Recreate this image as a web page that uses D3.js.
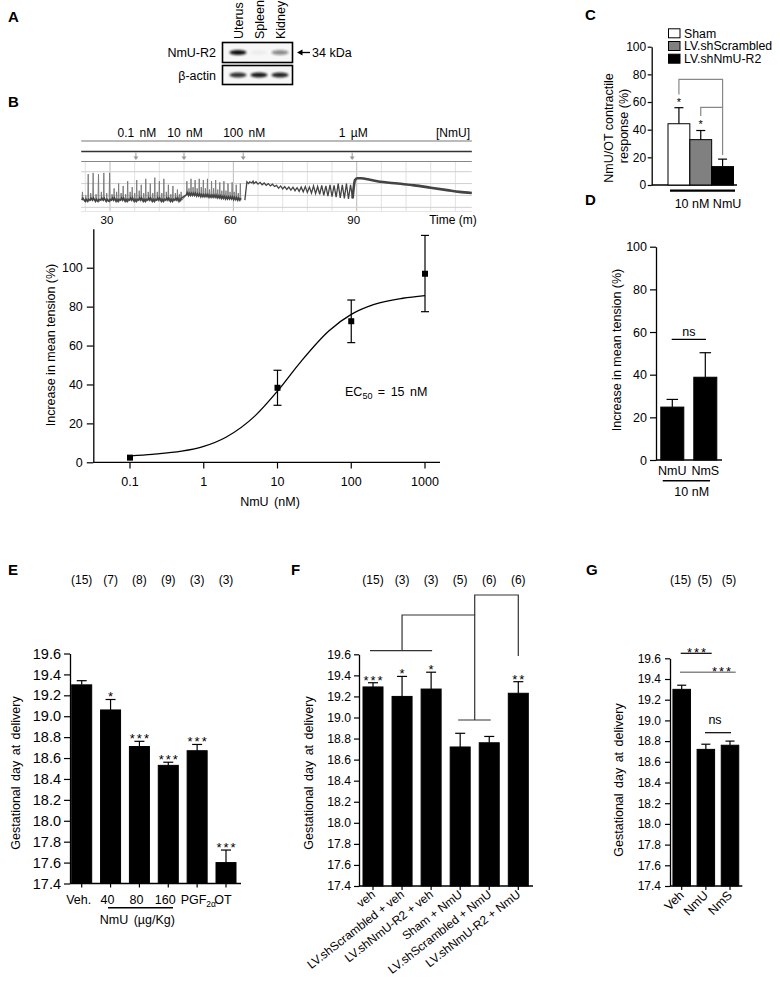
<!DOCTYPE html>
<html><head><meta charset="utf-8">
<script src="https://cdn.jsdelivr.net/npm/d3@7"></script>
<style>
body{margin:0;background:#fff;}
</style></head><body>
<svg id="fig" width="780" height="986"></svg>
<script>
// ================= DATA =================
// Panel A (western blot)
const blotLanes = ["Uterus", "Spleen", "Kidney"];
const nmuR2Band = [1.0, 0.04, 0.45];
const actinBand = [0.85, 0.95, 0.9];

// Panel B (trace)
const doseTimes = [36.3, 48.0, 62.4, 88.9];
const doseLabels = ["0.1 nM", "10 nM", "100 nM", "1 µM"];
const timeTicks = [30, 60, 90];
// spikes: [time (min), peak, trough]
const spikes1 = [[23.3,1.3,0.6],[24.1,1.0,0.5],[24.7,2.8,0.5],[25.3,1.2,0.6],[25.9,2.9,0.6],[26.6,1.1,0.5],[27.2,2.8,0.5],
  [27.9,1.3,0.6],[28.5,2.9,0.6],[29.2,1.2,0.5],[29.9,2.9,0.5],[30.5,1.1,0.6],[31.0,1.6,0.6],[31.6,1.3,0.5],[32.1,2.0,0.5],
  [32.7,1.2,0.6],[33.2,1.8,0.6],[33.8,1.1,0.5],[34.3,2.2,0.5],[34.9,1.3,0.6],[35.4,1.7,0.6],[36.0,1.2,0.5],[36.5,2.3,0.5],
  [37.1,1.4,0.6],[37.6,1.9,0.6],[38.2,1.2,0.5],[38.7,2.4,0.5],[39.3,1.3,0.6],[39.8,2.0,0.6],[40.4,1.2,0.5],[40.9,2.5,0.5],
  [41.5,1.3,0.6],[42.0,2.2,0.6],[42.6,1.2,0.5],[43.1,2.4,0.5],[43.7,1.3,0.6],[44.2,1.9,0.6],[44.8,1.1,0.5],[45.3,1.8,0.5],
  [45.9,1.2,0.6],[46.4,1.5,0.6],[46.9,1.1,0.5],[47.3,1.3,0.6]];
const spikes2 = [[48.7,2.2,1.05],[49.2,1.6,1.0],[49.7,2.4,1.0],[50.2,1.7,1.0],[50.7,2.3,1.0],[51.2,1.6,0.95],[51.7,2.4,0.95],
  [52.2,1.7,0.9],[52.7,2.3,0.9],[53.2,1.6,0.9],[53.7,2.4,0.9],[54.2,1.5,0.85],[54.7,2.2,0.85],[55.2,1.6,0.85],[55.7,2.3,0.85],
  [56.2,1.5,0.8],[56.7,2.1,0.8],[57.2,1.4,0.75],[57.7,2.2,0.75],[58.2,1.4,0.7],[58.7,2.0,0.7],[59.2,1.3,0.7],[59.7,2.1,0.7],
  [60.2,1.3,0.65],[60.7,1.9,0.65],[61.2,1.2,0.6],[61.7,2.0,0.6]];
const plateau = [[62.8,0.6],[63.3,2.15],[63.7,2.0],[64,2.15],[64.5,2.05],[64.8,2.2],[65,2.0],[65.5,2.15],[66,1.95],[66.5,2.1],[67,1.9],[67.5,2.05],
  [68,1.85],[68.5,2.0],[69,1.8],[69.5,1.95],[70,1.75],[70.5,1.85],[71,1.6],[71.5,1.8],[72,1.55],[72.5,1.75],[73,1.5],
  [73.5,1.7],[74,1.45],[74.5,1.7],[75,1.4],[75.5,1.65],[76,1.35],[76.5,1.7],[77,1.3],[77.5,1.75],[78,1.25],[78.5,1.7],
  [79,1.2],[79.5,1.8],[80,1.15],[80.5,1.75],[81,1.1],[81.5,1.85],[82,1.0],[82.5,1.8],[83,0.95],[83.5,1.9],[84,0.9],
  [84.5,1.85],[85,0.85],[85.5,2.0],[86,0.8],[86.5,1.9],[87,0.75],[87.5,2.0],[88,0.7],[88.5,1.9],[89,0.75]];
const decay = [[89.0,0.75],[89.6,2.3],[90.2,2.45],[91,2.45],[92,2.4],[95,2.2],[100,2.0],[104,1.85],[108,1.65],[112,1.45],[115,1.3],[118,1.2]];

// Panel B (dose response)
const doseConc = [0.1, 10, 100, 1000];
const doseMean = [2.4, 38.3, 72.5, 96.9];
const doseErrHi = [2.4, 47.3, 83.4, 116.6];
const doseErrLo = [2.4, 29.3, 61.5, 77.4];
const doseTicks = [0.1, 1, 10, 100, 1000];
const fitConc = [0.1, 0.2, 0.5, 1, 2, 5, 10, 20, 50, 100, 200, 500, 1000];
const fitVal  = [3.3, 4.1, 5.7, 8.2, 12.9, 24, 36.6, 51, 67.6, 76, 81, 84.3, 85.7];
const tensionTicks = [0, 20, 40, 60, 80, 100];

// Panel C
const cGroups = ["Sham", "LV.shScrambled", "LV.shNmU-R2"];
const cMeans = [44.3, 32.8, 13.3];
const cErr = [11.6, 6.6, 5.4];
const cColors = ["#ffffff", "#808080", "#000000"];

// Panel D
const dCats = ["NmU", "NmS"];
const dMeans = [24.8, 38.8];
const dErr = [3.6, 11.5];

// Panel E
const eCats = ["Veh.", "40", "80", "160", "PGF2α", "OT"];
const eMeans = [19.30, 19.06, 18.71, 18.53, 18.67, 17.60];
const eErr = [0.04, 0.10, 0.05, 0.03, 0.06, 0.12];
const eN = ["(15)", "(7)", "(8)", "(9)", "(3)", "(3)"];
const eSig = ["", "*", "***", "***", "***", "***"];

// Panel F
const fCats = ["veh", "LV.shScrambled + veh", "LV.shNmU-R2 + veh", "Sham + NmU", "LV.shScrambled + NmU", "LV.shNmU-R2 + NmU"];
const fMeans = [19.29, 19.20, 19.27, 18.72, 18.76, 19.23];
const fErr = [0.04, 0.19, 0.16, 0.13, 0.06, 0.11];
const fN = ["(15)", "(3)", "(3)", "(5)", "(6)", "(6)"];
const fSig = ["***", "*", "*", "", "", "**"];

// Panel G
const gCats = ["Veh", "NmU", "NmS"];
const gMeans = [19.30, 18.72, 18.76];
const gErr = [0.04, 0.05, 0.04];
const gN = ["(15)", "(5)", "(5)"];

const gestTicks = [17.4, 17.6, 17.8, 18.0, 18.2, 18.4, 18.6, 18.8, 19.0, 19.2, 19.4, 19.6];

// ================= DRAWING =================
const FONT = '"Liberation Sans", Arial, Helvetica, sans-serif';
const svg = d3.select("#fig").attr("font-family", FONT);
svg.append("rect").attr("width", 780).attr("height", 986).attr("fill", "#fff");

function txt(x, y, s, o = {}) {
  const t = svg.append("text").attr("x", x).attr("y", y).text(s)
    .attr("font-size", o.fs || 12.5).attr("text-anchor", o.anchor || "start")
    .attr("fill", o.fill || "#000");
  if (o.rot != null) t.attr("transform", `rotate(${o.rot},${x},${y})`);
  if (o.ws) t.attr("word-spacing", o.ws);
  if (o.ls) t.attr("letter-spacing", o.ls);
  if (o.bold) t.attr("font-weight", "bold");
  return t;
}
function line(x1, y1, x2, y2, stroke = "#000", w = 1.2) {
  return svg.append("line").attr("x1", x1).attr("y1", y1).attr("x2", x2).attr("y2", y2)
    .attr("stroke", stroke).attr("stroke-width", w);
}
function path(d, stroke = "#000", w = 1.2) {
  return svg.append("path").attr("d", d).attr("fill", "none").attr("stroke", stroke).attr("stroke-width", w);
}
function yAxis(scale, x, ticks, fmt, fs, tlen, pad) {
  const ax = d3.axisLeft(scale).tickValues(ticks).tickFormat(fmt).tickSize(tlen).tickSizeOuter(0).tickPadding(pad);
  const a = svg.append("g").attr("transform", `translate(${x},0)`).call(ax);
  a.selectAll("text").attr("font-size", fs).attr("font-family", FONT).attr("fill", "#000");
  a.select(".domain").attr("stroke-width", 1.3).attr("stroke", "#000");
  a.selectAll(".tick line").attr("stroke-width", 1.2).attr("stroke", "#000");
  return a;
}
function stars(x, yBottom, s, fs = 13) {
  if (!s) return;
  txt(x + 1, yBottom + 0.42 * fs, s, { fs: fs, anchor: "middle", ls: 2 });
}
function barSet(cats, means, errs, xs, ys, bw, fills, capW) {
  const g = svg.append("g");
  const base = ys.range()[0];
  cats.forEach((c, i) => {
    const cx = xs(c);
    g.append("rect").attr("x", cx - bw / 2).attr("width", bw)
      .attr("y", ys(means[i])).attr("height", base - ys(means[i]))
      .attr("fill", fills ? fills[i] : "#000").attr("stroke", "#000").attr("stroke-width", 1);
    const top = ys(means[i] + errs[i]);
    g.append("line").attr("x1", cx).attr("x2", cx).attr("y1", ys(means[i])).attr("y2", top).attr("stroke", "#000").attr("stroke-width", 1.2);
    g.append("line").attr("x1", cx - capW / 2).attr("x2", cx + capW / 2).attr("y1", top).attr("y2", top).attr("stroke", "#000").attr("stroke-width", 1.2);
  });
}

// ---------- Panel letters ----------
[["A", 8, 22], ["B", 8, 107], ["C", 585, 20], ["D", 585, 205], ["E", 8, 575], ["F", 291, 575], ["G", 586, 575]]
  .forEach(([l, x, y]) => txt(x, y, l, { fs: 15, bold: true }));

// ---------- Panel A ----------
const defs = svg.append("defs");
defs.append("filter").attr("id", "blur").attr("x", "-50%").attr("y", "-200%").attr("width", "200%").attr("height", "500%")
  .append("feGaussianBlur").attr("stdDeviation", 1.1);
const laneX = d3.scalePoint().domain(blotLanes).range([238, 280]);
const blotRows = [{ label: "NmU-R2", y0: 42.5, y1: 62.5, vals: nmuR2Band }, { label: "β-actin", y0: 65.5, y1: 84.5, vals: actinBand }];
blotRows.forEach(r => {
  svg.append("rect").attr("x", 222.5).attr("y", r.y0).attr("width", 70).attr("height", r.y1 - r.y0)
    .attr("fill", "#f7f7f7").attr("stroke", "#000").attr("stroke-width", 1.6);
  const cy = (r.y0 + r.y1) / 2;
  blotLanes.forEach((l, i) => {
    svg.append("ellipse").attr("cx", laneX(l)).attr("cy", cy).attr("rx", 8.5).attr("ry", 2.6)
      .attr("fill", "#111").attr("opacity", r.vals[i]).attr("filter", "url(#blur)");
  });
  txt(216, cy + 4.5, r.label, { anchor: "end" });
});
blotLanes.forEach(l => txt(laneX(l) + 4.5, 39, l, { rot: -90 }));
line(310, 52.5, 300, 52.5, "#000", 1.3);
svg.append("path").attr("d", "M297,52.5 L302.5,49.5 L302.5,55.5 Z").attr("fill", "#000");
txt(312, 57, "34 kDa");

// ---------- Panel B: trace ----------
const tX = d3.scaleLinear().domain([30, 90]).range([110, 356.7]);
const tY = d3.scaleLinear().domain([0, 3]).range([207.3, 171.7]);
const tL = tX(23), tR = tX(118);
d3.range(24, 118, 6).forEach(t => line(tX(t), 161.5, tX(t), 211, timeTicks.includes(t) ? "#bbb" : "#e2e2e2", 1));
[0, 1, 2, 3].forEach(v => line(tL, tY(v), tR, tY(v), "#cfcfcf", 1));
line(tL, 211.5, tR, 211.5, "#e6e6e6", 1);
line(tL, 141, tR, 141, "#777", 1);
line(tL, 151.5, tR, 151.5, "#333", 1.6);
line(tL, 161.5, tR, 161.5, "#888", 1);
doseTimes.forEach((t, i) => {
  line(tX(t), 152.5, tX(t), 157, "#999", 1);
  svg.append("path").attr("d", `M${tX(t) - 2.5},156.5 L${tX(t) + 2.5},156.5 L${tX(t)},160 Z`).attr("fill", "#999");
  txt(tX(t) + 1, 136.5, doseLabels[i], { anchor: "middle", fs: 12, ws: 2 });
});
txt(453, 136.5, "[NmU]", { anchor: "middle", fs: 12 });
timeTicks.forEach(t => txt(tX(t) - 3, 224, String(t), { anchor: "middle", fs: 11.5 }));
txt(453, 224, "Time (m)", { anchor: "middle", fs: 12 });
const spikePts = [], basePts = [];
[...spikes1, ...spikes2].forEach(([t, hi, lo]) => {
  spikePts.push([t - 0.12, lo]); spikePts.push([t, hi]); spikePts.push([t + 0.1, lo + 0.15]); spikePts.push([t + 0.22, lo]);
  basePts.push([t - 0.12, lo]); basePts.push([t + 0.1, lo + 0.18]);
});
const tLine = d3.line().x(d => tX(d[0])).y(d => tY(d[1]));
svg.append("path").attr("d", tLine(spikePts)).attr("fill", "none").attr("stroke", "#777").attr("stroke-width", 0.9);
svg.append("path").attr("d", tLine(basePts)).attr("fill", "none").attr("stroke", "#444").attr("stroke-width", 1.6);
svg.append("path").attr("d", tLine(plateau)).attr("fill", "none").attr("stroke", "#444").attr("stroke-width", 1.3);
svg.append("path").attr("d", d3.line().x(d => tX(d[0])).y(d => tY(d[1])).curve(d3.curveMonotoneX)(decay))
  .attr("fill", "none").attr("stroke", "#444").attr("stroke-width", 2.6);

// ---------- Panel B: dose response ----------
const bX = d3.scaleLog().domain([0.1, 1000]).range([130, 425]);
const bY = d3.scaleLinear().domain([0, 120]).range([462.3, 228.8]);
yAxis(bY, 93.3, tensionTicks, d3.format("d"), 12.5, 6.5, 4);
line(93.3, 462.3, 440, 462.3, "#000", 1.3);
doseTicks.forEach(v => {
  line(bX(v), 462.3, bX(v), 468.5, "#000", 1.2);
  txt(bX(v), 486, String(v), { anchor: "middle" });
});
txt(270, 506, "NmU (nM)", { anchor: "middle", ws: 2 });
txt(55, 345, "Increase in mean tension (%)", { anchor: "middle", rot: -90 });
const fitLine = d3.line().x((d, i) => bX(fitConc[i])).y((d, i) => bY(fitVal[i])).curve(d3.curveMonotoneX);
svg.append("path").attr("d", fitLine(fitConc)).attr("fill", "none").attr("stroke", "#000").attr("stroke-width", 1.3);
doseConc.forEach((c, i) => {
  const x = bX(c);
  if (doseErrHi[i] !== doseErrLo[i]) {
    line(x, bY(doseErrHi[i]), x, bY(doseErrLo[i]), "#000", 1.2);
    line(x - 4, bY(doseErrHi[i]), x + 4, bY(doseErrHi[i]), "#000", 1.2);
    line(x - 4, bY(doseErrLo[i]), x + 4, bY(doseErrLo[i]), "#000", 1.2);
  }
  svg.append("rect").attr("x", x - 3).attr("y", bY(doseMean[i]) - 3).attr("width", 6).attr("height", 6).attr("fill", "#000");
});
const ec = txt(345, 396, "EC", { fs: 12.5 });
ec.append("tspan").attr("font-size", 9).attr("dy", 3).text("50");
ec.append("tspan").attr("dy", -3).attr("word-spacing", 2).text(" = 15  nM");

// ---------- Panel C ----------
const cX = d3.scaleBand().domain(cGroups).range([668, 733.5]).padding(0);
const cY = d3.scaleLinear().domain([0, 100]).range([185, 46.7]);
yAxis(cY, 651.7, tensionTicks, d3.format("d"), 12, 4, 1.5);
line(651.7, 185, 737, 185, "#000", 1.3);
line(670, 190.7, 735, 190.7, "#000", 2.2);
txt(708, 208, "10  nM  NmU", { anchor: "middle" });
const cXc = d => cX(d) + cX.bandwidth() / 2;
barSet(cGroups, cMeans, cErr, cXc, cY, cX.bandwidth(), cColors, 9);
cGroups.forEach((g, i) => {
  const cy = 33.3 + i * 12.7;
  svg.append("rect").attr("x", 668.5).attr("y", cy - 4.5).attr("width", 11.5).attr("height", 9)
    .attr("fill", cColors[i]).attr("stroke", "#000").attr("stroke-width", 1);
  txt(684, cy + 4.3, g, { fs: 12.3 });
});
txt(612.5, 128, "NmU/OT contractile", { anchor: "middle", rot: -90 });
txt(627.5, 126, "response (%)", { anchor: "middle", rot: -90 });
path(`M${cXc(cGroups[0])},94.5 V79.3 H${cXc(cGroups[2])} V155`, "#888", 1.2);
path(`M${cXc(cGroups[1])},116 V107.3 H${cXc(cGroups[2])}`, "#888", 1.2);
txt(cXc(cGroups[0]), 106, "*", { anchor: "middle", fs: 11 });
txt(cXc(cGroups[1]), 128, "*", { anchor: "middle", fs: 11 });

// ---------- Panel D ----------
const dX = d3.scalePoint().domain(dCats).range([672.3, 705.3]);
const dY = d3.scaleLinear().domain([0, 100]).range([460, 246.7]);
yAxis(dY, 656, tensionTicks, d3.format("d"), 12.5, 6, 3);
line(656, 460, 722, 460, "#000", 1.3);
barSet(dCats, dMeans, dErr, dX, dY, 23, null, 11.5);
dCats.forEach(c => txt(dX(c), 474.5, c, { anchor: "middle" }));
line(662.7, 480.7, 710, 480.7, "#000", 1.5);
txt(691.7, 496, "10 nM", { anchor: "middle" });
line(671.7, 339.3, 706, 339.3, "#000", 1.2);
txt(688.8, 336, "ns", { anchor: "middle", fs: 12.5 });
txt(621, 350, "Increase in mean tension (%)", { anchor: "middle", rot: -90 });

// ---------- Panel E ----------
const eX = d3.scalePoint().domain(eCats).range([81.7, 226]);
const eY = d3.scaleLinear().domain([17.4, 19.6]).range([883.5, 653.5]);
yAxis(eY, 70, gestTicks, d3.format(".1f"), 14.5, 6, 3);
line(70, 883.5, 241, 883.5, "#000", 1.3);
eCats.forEach(c => line(eX(c), 883.5, eX(c), 887.5, "#000", 1.2));
barSet(eCats, eMeans, eErr, eX, eY, 20, null, 10);
eCats.forEach((c, i) => {
  stars(eX(c), eY(eMeans[i] + eErr[i]) - 4, eSig[i], 13);
  txt(eX(c), 584, eN[i], { anchor: "middle", fs: 12 });
  if (c === "PGF2α") {
    const t = txt(eX(c) - 16.5, 903.5, "PGF", { anchor: "start", fs: 12.5 });
    t.append("tspan").attr("font-size", 8.5).attr("dy", 3).text("2α");
  } else {
    txt(eX(c) - 3, 903.5, c, { anchor: "middle", fs: 12.5 });
  }
});
line(108, 907.7, 173, 907.7, "#000", 1.4);
txt(137.3, 924, "NmU (µg/Kg)", { anchor: "middle", ws: 2 });
txt(19.5, 773, "Gestational day at delivery", { anchor: "middle", rot: -90, ws: 2 });

// ---------- Panel F ----------
const fX = d3.scalePoint().domain(fCats).range([373, 518.3]);
const fY = d3.scaleLinear().domain([17.4, 19.6]).range([886, 654.3]);
yAxis(fY, 359, gestTicks, d3.format(".1f"), 12.2, 5, 3);
line(359, 886, 533, 886, "#000", 1.3);
fCats.forEach(c => line(fX(c), 886, fX(c), 890, "#000", 1.2));
barSet(fCats, fMeans, fErr, fX, fY, 20, null, 10);
fCats.forEach((c, i) => {
  stars(fX(c), fY(fMeans[i] + fErr[i]) - 3.5, fSig[i], 13);
  txt(fX(c), 584, fN[i], { anchor: "middle", fs: 12 });
  txt(fX(c) + 3, 896, c, { anchor: "end", rot: -38, fs: 12 });
});
txt(312.7, 773, "Gestational day at delivery", { anchor: "middle", rot: -90, ws: 2 });
const fb = "#333";
line(fX(fCats[0]) - 3, 650.7, fX(fCats[2]) + 1, 650.7, fb, 1.2);
const midHi = (fX(fCats[3]) + fX(fCats[4])) / 2;
path(`M${fX(fCats[1])},650.7 V615 H${midHi} V720`, fb, 1.2);
line(fX(fCats[3]) - 2, 720, fX(fCats[4]) + 1.5, 720, fb, 1.2);
path(`M${midHi},615 V595 H${fX(fCats[5])} V656`, fb, 1.2);

// ---------- Panel G ----------
const gX = d3.scalePoint().domain(gCats).range([681.7, 730]);
const gY = d3.scaleLinear().domain([17.4, 19.6]).range([886, 658.3]);
yAxis(gY, 670, gestTicks, d3.format(".1f"), 12, 5, 4);
line(670, 886, 742.3, 886, "#000", 1.3);
gCats.forEach(c => line(gX(c), 886, gX(c), 890, "#000", 1.2));
barSet(gCats, gMeans, gErr, gX, gY, 17.5, null, 9);
gCats.forEach((c, i) => {
  txt(gX(c) - 1, 584, gN[i], { anchor: "middle", fs: 12 });
  txt(gX(c) + 3, 896, c, { anchor: "end", rot: -45, fs: 12.5 });
});
txt(622.7, 780, "Gestational day at delivery", { anchor: "middle", rot: -90, ws: 2 });
line(680.7, 653.3, 711.7, 653.3, "#000", 1.2);
stars(696.5, 651.5, "***", 13);
line(680, 672.3, 735.7, 672.3, "#888", 1.5);
stars(721.5, 670.5, "***", 13);
line(705, 732.7, 731, 732.7, "#000", 1.2);
txt(715, 724, "ns", { anchor: "middle", fs: 12.5 });
</script>
</body></html>
